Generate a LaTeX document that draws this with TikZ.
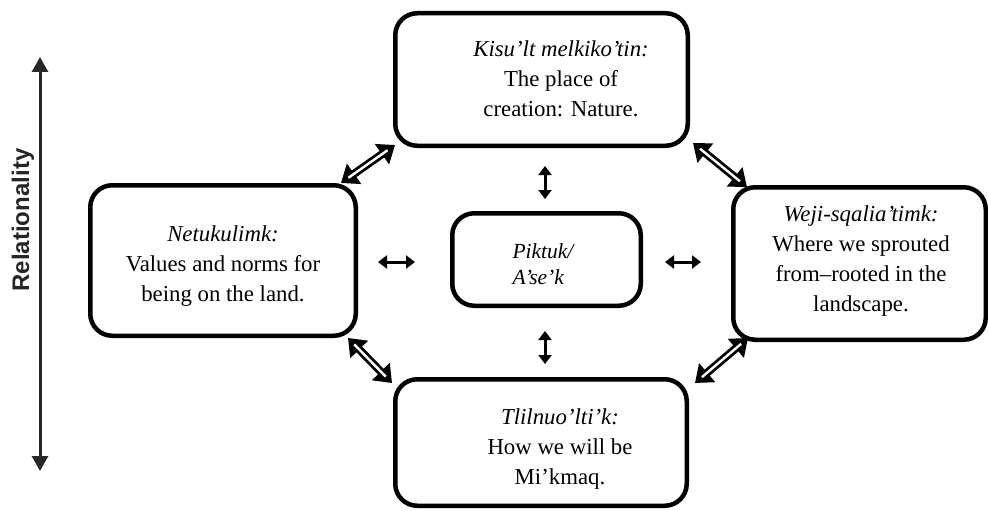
\documentclass[tikz,border=0pt]{standalone}
\usepackage{fontspec}
\setmainfont{Liberation Serif}
\newfontfamily\relfont{Liberation Sans}
\usetikzlibrary{arrows.meta}
\begin{document}
\begin{tikzpicture}[x=1pt,y=-1pt,
  box/.style={draw, line width=4.5pt, rounded corners=22pt, inner sep=0pt},
  txt/.style={align=center, font=\fontsize{22.8}{29.8}\selectfont, inner sep=0pt},
  hol/.style={line width=8pt, {Triangle[length=16pt,width=24pt]}-{Triangle[length=16pt,width=24pt]}},
  holin/.style={white, line width=2.4pt, shorten <=9pt, shorten >=9pt},
  small/.style={line width=3pt, {Triangle[length=9pt,width=13pt]}-{Triangle[length=9pt,width=13pt]}},
  rel/.style={line width=3pt, draw=black!85, {Triangle[length=15pt,width=16pt]}-{Triangle[length=15pt,width=16pt]}}]
\useasboundingbox (0,0) rectangle (988,511);

% boxes
\node[box, minimum width=292.5pt, minimum height=132.5pt] (top) at (541.5,79.5) {};
\node[box, minimum width=265.5pt, minimum height=150.5pt] (left) at (223,260.5) {};
\node[box, minimum width=188.5pt, minimum height=92.5pt] (center) at (546.5,259.5) {};
\node[box, minimum width=252.5pt, minimum height=152.5pt] (right) at (859.5,263.5) {};
\node[box, minimum width=291.5pt, minimum height=126.5pt] (bottom) at (541,442.5) {};

% texts
\node[txt] (toptxt) at (561,79) {\textit{Kisu'lt melkiko'tin:}\\The place of\\creation: Nature.};
\node[txt] (lefttxt) at (223,266) {\textit{Netukulimk:}\\Values and norms for\\being on the land.};
\node[txt] (righttxt) at (861,261) {\textit{Weji-sqalia'timk:}\\Where we sprouted\\from\textendash rooted in the\\landscape.};
\node[txt] (bottomtxt) at (560,449) {\textit{Tlilnuo'lti'k:}\\How we will be\\Mi'kmaq.};
\node[align=left, inner sep=0pt, font=\fontsize{21.5}{26}\selectfont\itshape] (centertxt) at (543,264) {Piktuk/\\A'se'k};

% hollow double arrows
\coordinate (a1) at (341,183); \coordinate (b1) at (395,145);
\coordinate (a2) at (693,143); \coordinate (b2) at (747,187);
\coordinate (a3) at (348,338); \coordinate (b3) at (392,383);
\coordinate (a4) at (695,383); \coordinate (b4) at (748,338);
\foreach \i in {1,2,3,4}{
  \draw[hol] (a\i) -- (b\i);
  \draw[holin] (a\i) -- (b\i);
}

% small arrows
\coordinate (l1) at (378,262); \coordinate (l2) at (415,262);
\coordinate (r1) at (665,262); \coordinate (r2) at (701,262);
\coordinate (u1) at (545,166); \coordinate (u2) at (545,199);
\coordinate (d1) at (545,331); \coordinate (d2) at (545,364);
\draw[small] (l1) -- (l2);
\draw[small] (r1) -- (r2);
\draw[small] (u1) -- (u2);
\draw[small] (d1) -- (d2);

% relationality axis
\coordinate (rt) at (40,57); \coordinate (rb) at (40,471);
\draw[rel] (rt) -- (rb);
\node[rotate=90, inner sep=0pt, font=\relfont\bfseries\fontsize{24}{28}\selectfont, text=black!85] (reltxt) at (23,220) {Relationality};
\end{tikzpicture}
\end{document}
